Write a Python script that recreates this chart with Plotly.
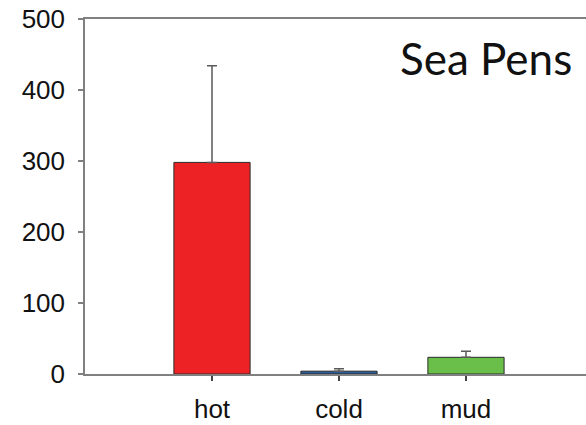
import plotly.graph_objects as go

# Sea pen abundance by habitat type
categories = ["hot", "cold", "mud"]
means = [298, 4, 23.5]
errors = [136, 3.5, 8.5]
colors = ["#ED2224", "#2B5C96", "#6ABF4B"]
y_ticks = [0, 100, 200, 300, 400, 500]

W, H = 586, 425
ml, mr, mt, mb = 85, 0, 19, 51

x_pos = list(range(len(categories)))

fig = go.Figure(
    go.Bar(
        x=x_pos,
        y=means,
        width=0.6,
        marker=dict(color=colors, line=dict(color="#2a2a2a", width=1)),
        error_y=dict(
            type="data",
            array=errors,
            symmetric=False,
            arrayminus=[0, 0, 0],
            color="#5a5a5a",
            thickness=1.5,
            width=5,
        ),
        showlegend=False,
    )
)

axis_font = dict(family="Liberation Sans, Arial, sans-serif", size=26, color="#111")

fig.update_layout(
    width=W,
    height=H,
    margin=dict(l=ml, r=mr, t=mt, b=mb, autoexpand=False),
    paper_bgcolor="white",
    plot_bgcolor="white",
    xaxis=dict(
        range=[-1.0, 2.945],
        tickmode="array",
        tickvals=x_pos,
        ticktext=categories,
        ticks="outside",
        ticklen=5,
        tickwidth=1.5,
        tickcolor="#444",
        showline=True,
        linecolor="#808080",
        linewidth=1.5,
        mirror=True,
        showgrid=False,
        zeroline=False,
        tickfont=axis_font,
        ticklabelstandoff=6,
        automargin=False,
    ),
    yaxis=dict(
        range=[0, 500],
        tickmode="array",
        tickvals=y_ticks,
        ticks="outside",
        ticklen=5,
        tickwidth=1.5,
        tickcolor="#808080",
        showline=True,
        linecolor="#808080",
        linewidth=1.5,
        showgrid=False,
        zeroline=False,
        tickfont=axis_font,
        ticklabelstandoff=8,
        automargin=False,
    ),
    annotations=[
        dict(
            text="Sea Pens",
            xref="paper",
            yref="paper",
            x=0.976,
            y=0.89,
            xanchor="right",
            yanchor="middle",
            showarrow=False,
            font=dict(family="Lato, Calibri, sans-serif", size=44, color="#111"),
        )
    ],
)

fig.write_html("out.html")
